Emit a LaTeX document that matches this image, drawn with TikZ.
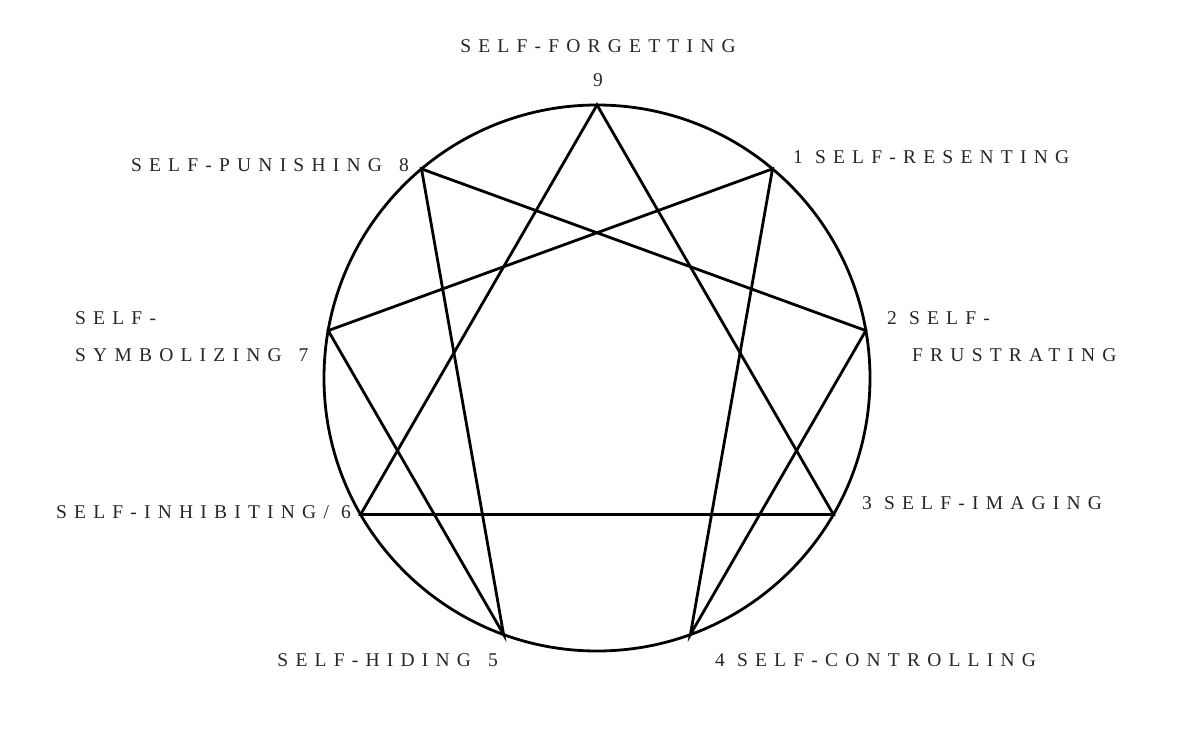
\documentclass[tikz,border=0pt]{standalone}
\usepackage{fontspec}
\newfontfamily\labfont[LetterSpace=37]{Liberation Serif}
\newcommand\xsp{\hspace{5pt}}
\begin{document}
\begin{tikzpicture}[x=1pt,y=-1pt,
  lab/.style={font=\labfont\fontsize{19.5}{23}\selectfont, text=black!85, inner sep=0pt},
  figline/.style={line width=2.8pt, line join=miter, line cap=round}]
\useasboundingbox[fill=white] (0,0) rectangle (1189,738);
\coordinate (c) at (597,378);
\coordinate (p9) at (597,105);
\coordinate (p1) at (772.5,168.9);
\coordinate (p2) at (865.8,330.6);
\coordinate (p3) at (833.4,514.5);
\coordinate (p4) at (690.4,634.5);
\coordinate (p5) at (503.6,634.5);
\coordinate (p6) at (360.6,514.5);
\coordinate (p7) at (328.2,330.6);
\coordinate (p8) at (421.5,168.9);
\draw[figline] (c) circle[radius=273];
\draw[figline] (p9) -- (p3) -- (p6) -- cycle;
\draw[figline] (p1) -- (p4) -- (p2) -- (p8) -- (p5) -- (p7) -- cycle;
% labels
\node[lab, anchor=base] (t9) at (598,53) {SELF-FORGETTING};
\node[lab, anchor=base] (n9) at (598,87) {9};
\node[lab, anchor=base east] (t8) at (409,172) {SELF-PUNISHING\xsp{} 8};
\node[lab, anchor=base west] (t1) at (793,164) {1 SELF-RESENTING};
\node[lab, anchor=base west] (t7a) at (75,324) {SELF-};
\node[lab, anchor=base west] (t7b) at (75,361) {SYMBOLIZING\xsp{} 7};
\node[lab, anchor=base west] (t2a) at (887,324) {2 SELF-};
\node[lab, anchor=base west] (t2b) at (912,361) {FRUSTRATING};
\node[lab, anchor=base east] (t6) at (351,518) {SELF-INHIBITING/ 6};
\node[lab, anchor=base west] (t3) at (862,509) {3 SELF-IMAGING};
\node[lab, anchor=base east] (t5) at (498,666) {SELF-HIDING\xsp{} 5};
\node[lab, anchor=base west] (t4) at (715,666) {4 SELF-CONTROLLING};
\end{tikzpicture}
\end{document}
